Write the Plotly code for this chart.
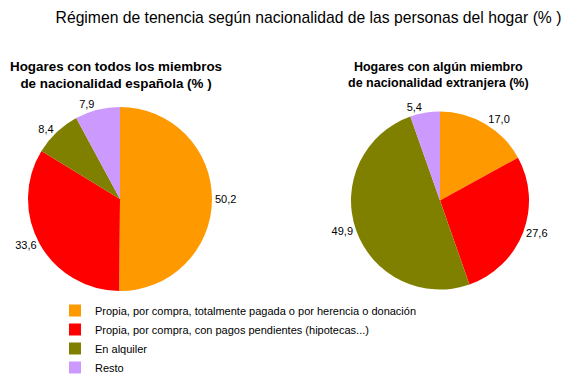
import plotly.graph_objects as go

categories = [
    "Propia, por compra, totalmente pagada o por herencia o donación",
    "Propia, por compra, con pagos pendientes (hipotecas...)",
    "En alquiler",
    "Resto",
]
espanola = [50.2, 33.6, 8.4, 7.9]
extranjera = [17.0, 27.6, 49.9, 5.4]
colors = ["#FF9900", "#FF0000", "#808000", "#CC99FF"]

W, H = 571, 374
OFF = 8  # default page body margin
FONT = "Liberation Sans, Arial, sans-serif"

def px(x):
    return (x - OFF) / W

def py(y):
    return 1 - (y - OFF) / H

def dom(x0, x1, ytop, ybot):
    return dict(x=[px(x0), px(x1)], y=[py(ybot), py(ytop)])

fig = go.Figure()
fig.add_trace(go.Pie(
    labels=categories, values=espanola, sort=False, direction="clockwise", rotation=0,
    marker=dict(colors=colors, line=dict(width=0)),
    textposition="outside", texttemplate="%{value:.1f}",
    textfont=dict(size=11, color="#000000", family=FONT),
    domain=dom(28, 212, 107, 291), showlegend=True, hoverinfo="label+value",
))
fig.add_trace(go.Pie(
    labels=categories, values=extranjera, sort=False, direction="clockwise", rotation=0,
    marker=dict(colors=colors, line=dict(width=0)),
    textposition="outside", texttemplate="%{value:.1f}",
    textfont=dict(size=11, color="#000000", family=FONT),
    domain=dom(351, 529, 111, 290), showlegend=False, hoverinfo="label+value",
))

fig.update_layout(
    width=W, height=H,
    margin=dict(l=0, r=0, t=0, b=0, autoexpand=False),
    paper_bgcolor="white", plot_bgcolor="white",
    separators=",.",
    font=dict(family=FONT, size=11, color="#000000"),
    title=dict(text="Régimen de tenencia según nacionalidad de las personas del hogar (% )",
               x=px(308.5), xanchor="center", y=py(18), yanchor="middle",
               font=dict(size=15.7, family=FONT)),
    legend=dict(x=px(55), y=py(296), xanchor="left", yanchor="top",
                font=dict(size=11, family=FONT), tracegroupgap=0,
                itemwidth=30, bgcolor="rgba(0,0,0,0)"),
    annotations=[
        dict(text="<b>Hogares con todos los miembros<br>de nacionalidad española (% )</b>",
             x=px(116), y=py(75), xref="paper", yref="paper", showarrow=False,
             xanchor="center", yanchor="middle",
             font=dict(size=13.4, family=FONT), align="center"),
        dict(text="<b>Hogares con algún miembro<br>de nacionalidad extranjera (%)</b>",
             x=px(438), y=py(75.5), xref="paper", yref="paper", showarrow=False,
             xanchor="center", yanchor="middle",
             font=dict(size=12.5, family=FONT), align="center"),
    ],
)

fig.write_html("out.html")
